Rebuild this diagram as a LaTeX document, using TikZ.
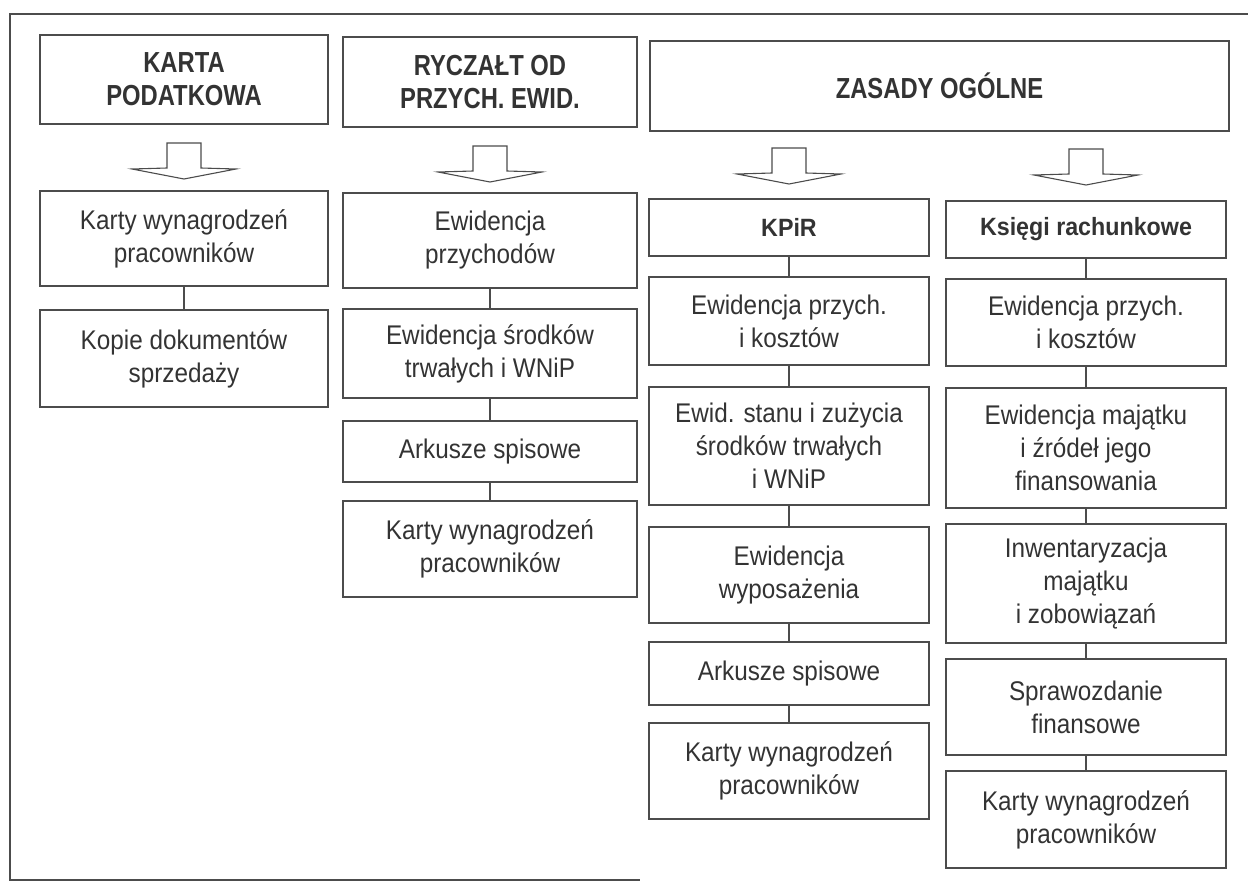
\documentclass[tikz,border=0pt]{standalone}
\usepackage{fontspec}
\setmainfont[FakeStretch=0.9]{Liberation Sans}
\newfontfamily\hdfont[FakeStretch=0.82]{Liberation Sans}
\newfontfamily\subfont[FakeStretch=0.93]{Liberation Sans}
\usetikzlibrary{calc}
\definecolor{ink}{rgb}{0.2,0.2,0.2}
\definecolor{rule}{rgb}{0.3,0.3,0.3}
\tikzset{
  box/.style={draw=rule, line width=1.2pt, inner sep=0pt, align=center,
    text=ink, font=\fontsize{27}{33}\selectfont},
  headbox/.style={box, font=\hdfont\bfseries\fontsize{29}{33}\selectfont},
  subbox/.style={box, font=\subfont\bfseries\fontsize{25}{30}\selectfont},
  link/.style={draw=rule, line width=1.1pt},
  blockarrow/.style={draw=rule, line width=1.1pt, line join=miter},
  frame/.style={draw=rule, line width=1.2pt}
}
\newcommand{\blockarr}[1]{%
  \draw[blockarrow] ($(#1)+(-17,-19)$) -- ($(#1)+(17,-19)$) -- ($(#1)+(17,6)$)
    -- ($(#1)+(52,7)$) -- ($(#1)+(0,17)$) -- ($(#1)+(-52,7)$)
    -- ($(#1)+(-17,6)$) -- cycle;}
\begin{document}
\begin{tikzpicture}[x=1pt,y=-1pt]
\useasboundingbox (0,0) rectangle (1248,883);
% frame
\draw[frame] (1248,14) -- (10,14) -- (10,880) -- (640,880);
% headers
\node[headbox, minimum width=288pt, minimum height=89pt] (h1) at (184,79.5) {KARTA\\PODATKOWA};
\node[headbox, minimum width=294pt, minimum height=90pt] (h2) at (490,82) {RYCZAŁT OD\\PRZYCH. EWID.};
\node[headbox, minimum width=579pt, minimum height=90pt] (h3) at (939.5,86) {ZASADY OGÓLNE};
% column 1
\node[box, minimum width=288pt, minimum height=95pt] (a1) at (184,238.5) {Karty wynagrodzeń\\pracowników};
\node[box, minimum width=288pt, minimum height=97pt] (a2) at (184,358.5) {Kopie dokumentów\\sprzedaży};
% column 2
\node[box, minimum width=294pt, minimum height=95pt] (b1) at (490,240.5) {Ewidencja\\przychodów};
\node[box, minimum width=294pt, minimum height=89pt] (b2) at (490,353.5) {Ewidencja środków\\trwałych i WNiP};
\node[box, minimum width=294pt, minimum height=61pt] (b3) at (490,451.5) {Arkusze spisowe};
\node[box, minimum width=294pt, minimum height=96pt] (b4) at (490,549) {Karty wynagrodzeń\\pracowników};
% column 3
\node[subbox, minimum width=280pt, minimum height=57pt] (c0) at (789,227.5) {KPiR};
\node[box, minimum width=280pt, minimum height=88pt] (c1) at (789,321) {Ewidencja przych.\\i kosztów};
\node[box, minimum width=280pt, minimum height=118pt] (c2) at (789,446) {Ewid. stanu i zużycia\\środków trwałych\\i WNiP};
\node[box, minimum width=280pt, minimum height=96pt] (c3) at (789,575) {Ewidencja\\wyposażenia};
\node[box, minimum width=280pt, minimum height=63pt] (c4) at (789,673.5) {Arkusze spisowe};
\node[box, minimum width=280pt, minimum height=96pt] (c5) at (789,771) {Karty wynagrodzeń\\pracowników};
% column 4
\node[subbox, minimum width=280pt, minimum height=57pt] (d0) at (1086,229.5) {Księgi rachunkowe};
\node[box, minimum width=280pt, minimum height=87pt] (d1) at (1086,322.5) {Ewidencja przych.\\i kosztów};
\node[box, minimum width=280pt, minimum height=120pt] (d2) at (1086,448) {Ewidencja majątku\\i źródeł jego\\finansowania};
\node[box, minimum width=280pt, minimum height=119pt] (d3) at (1086,583.5) {Inwentaryzacja\\majątku\\i zobowiązań};
\node[box, minimum width=280pt, minimum height=96pt] (d4) at (1086,707) {Sprawozdanie\\finansowe};
\node[box, minimum width=280pt, minimum height=97pt] (d5) at (1086,819.5) {Karty wynagrodzeń\\pracowników};
% connectors
\draw[link] (a1.south) -- (a2.north);
\draw[link] (b1.south) -- (b2.north);
\draw[link] (b2.south) -- (b3.north);
\draw[link] (b3.south) -- (b4.north);
\draw[link] (c0.south) -- (c1.north);
\draw[link] (c1.south) -- (c2.north);
\draw[link] (c2.south) -- (c3.north);
\draw[link] (c3.south) -- (c4.north);
\draw[link] (c4.south) -- (c5.north);
\draw[link] (d0.south) -- (d1.north);
\draw[link] (d1.south) -- (d2.north);
\draw[link] (d2.south) -- (d3.north);
\draw[link] (d3.south) -- (d4.north);
\draw[link] (d4.south) -- (d5.north);
% block arrows
\coordinate (ar1) at (184,162);
\coordinate (ar2) at (490,165);
\coordinate (ar3) at (789,167);
\coordinate (ar4) at (1086,168);
\blockarr{ar1}
\blockarr{ar2}
\blockarr{ar3}
\blockarr{ar4}
\end{tikzpicture}
\end{document}
